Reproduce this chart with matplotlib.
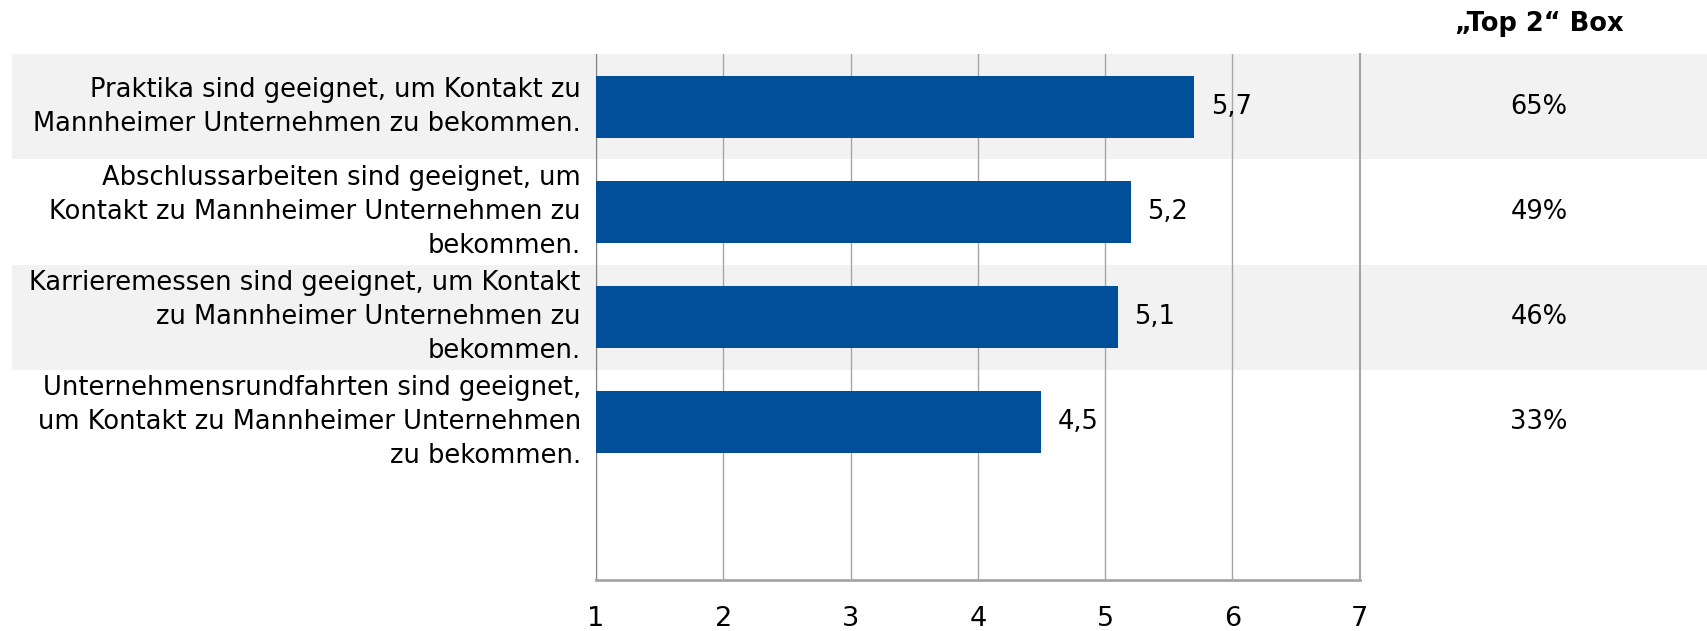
import matplotlib
matplotlib.use("Agg")
import matplotlib.pyplot as plt
from matplotlib.patches import Rectangle
from matplotlib.transforms import blended_transform_factory

plt.rcParams['font.family'] = ['DejaVu Sans']

labels = [
    "Praktika sind geeignet, um Kontakt zu\nMannheimer Unternehmen zu bekommen.",
    "Abschlussarbeiten sind geeignet, um\nKontakt zu Mannheimer Unternehmen zu\nbekommen.",
    "Karrieremessen sind geeignet, um Kontakt\nzu Mannheimer Unternehmen zu\nbekommen.",
    "Unternehmensrundfahrten sind geeignet,\num Kontakt zu Mannheimer Unternehmen\nzu bekommen.",
]
means = [5.7, 5.2, 5.1, 4.5]
top2 = ["65%", "49%", "46%", "33%"]
xticks = [1, 2, 3, 4, 5, 6, 7]

bar_col = "#004F98"
band_col = "#F2F2F2"
grid_col = "#A6A6A6"
fs = 18.5

fig = plt.figure(figsize=(17.08, 6.31), dpi=100)
ax = fig.add_axes([0.349, 0.081, 0.447, 0.833])

n_slots = 5
ax.set_ylim(n_slots - 0.5, -0.5)
ax.set_xlim(1, 7)
ax.patch.set_alpha(0)

# alternating grey bands across the whole figure width
tr = blended_transform_factory(fig.transFigure, ax.transData)
for i in range(len(labels)):
    if i % 2 == 0:
        ax.add_patch(Rectangle((0.007, i - 0.5), 0.993, 1.0, transform=tr,
                               facecolor=band_col, edgecolor="none", zorder=0,
                               clip_on=False))

ys = list(range(len(means)))
ax.barh(ys, [m - 1 for m in means], left=1, height=0.59, color=bar_col, zorder=3)

lab_tr = blended_transform_factory(ax.transAxes, ax.transData)
for y, m in zip(ys, means):
    ax.text(m + 0.13, y, f"{m:.1f}".replace(".", ","), va="center", ha="left",
            fontsize=fs, zorder=4)
    ax.text(-0.02, y, labels[y], transform=lab_tr,
            ha="right", va="center", fontsize=fs, linespacing=1.4)

# "Top 2" Box column
for y, p in zip(ys, top2):
    ax.text(0.901, y, p, transform=tr, ha="center", va="center", fontsize=fs,
            clip_on=False)
fig.text(0.901, 0.962, "\u201eTop 2\u201c Box", ha="center", va="center",
         fontsize=fs, fontweight="bold")

ax.set_xticks(xticks)
ax.set_xticklabels([str(t) for t in xticks], fontsize=fs + 1)
ax.tick_params(axis="x", length=0, pad=19)
ax.set_yticks([])
ax.grid(axis="x", color=grid_col, linewidth=1, zorder=1)
ax.spines["top"].set_visible(False)
ax.spines["right"].set_color(grid_col)
ax.spines["right"].set_linewidth(1.5)
ax.spines["left"].set_color("#808080")
ax.spines["bottom"].set_color(grid_col)
ax.spines["bottom"].set_linewidth(2)

fig.savefig("out.png", dpi=100)
